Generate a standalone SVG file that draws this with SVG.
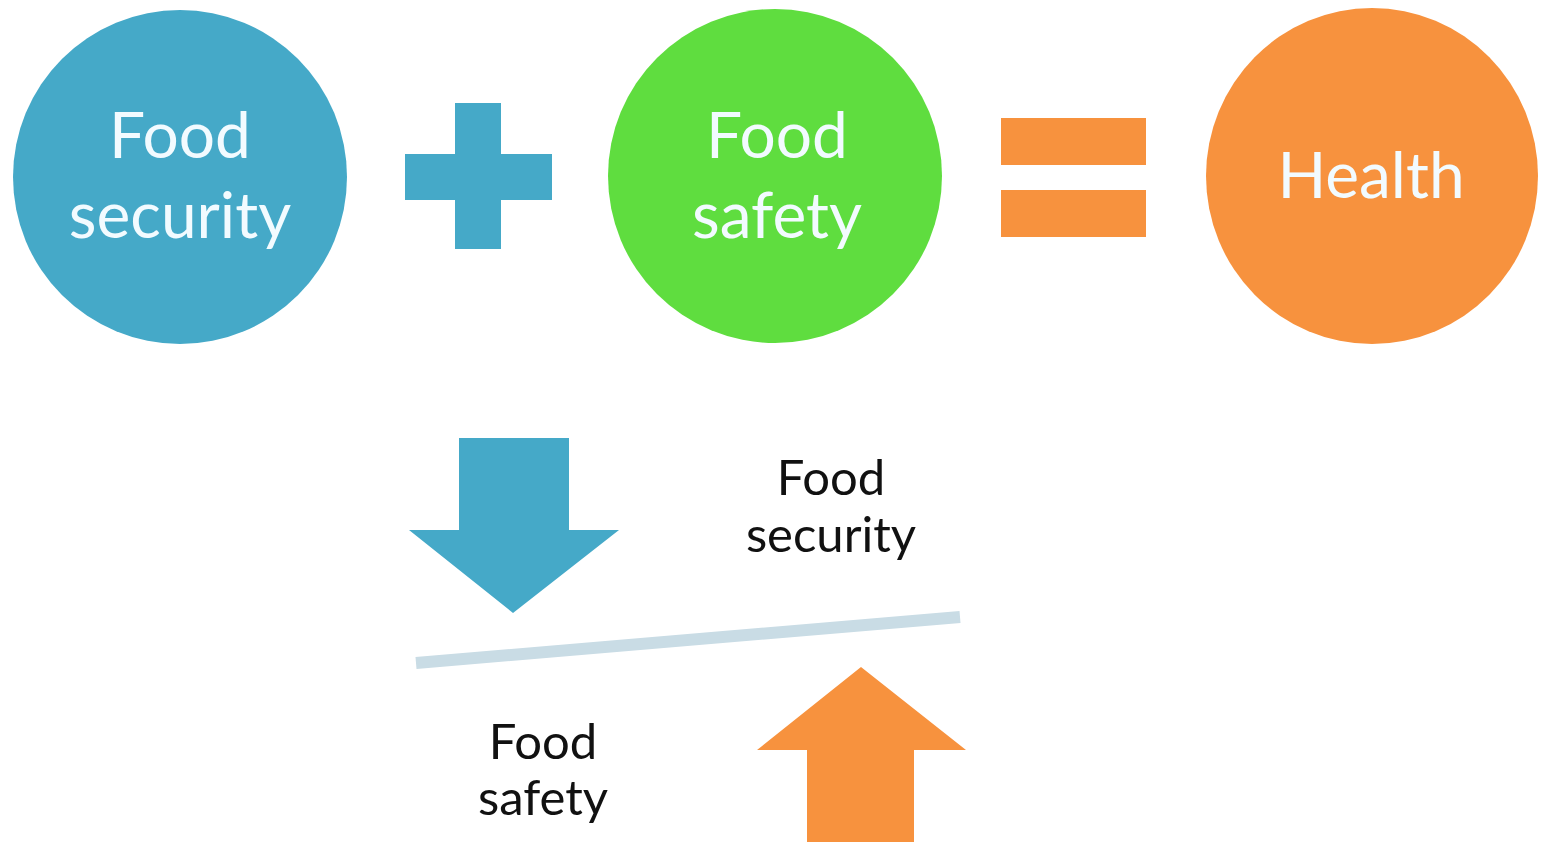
<svg xmlns="http://www.w3.org/2000/svg" width="1543" height="842" viewBox="0 0 1543 842">
  <style>
    .lbl { font-family: Lato, "Open Sans", "Liberation Sans", sans-serif; text-anchor: middle; }
    .in { fill: #F2FBFF; font-size: 64px; }
    .out { fill: #111111; font-size: 49px; }
    .blue { fill: #45A9C8; }
    .green { fill: #5FDD3F; }
    .orange { fill: #F7923E; }
  </style>
  <rect width="1543" height="842" fill="#FFFFFF"/>

  <g id="food-security">
    <ellipse class="blue" cx="180" cy="177" rx="167" ry="167"/>
    <text class="lbl in" x="180" y="158">Food</text>
    <text class="lbl in" x="180" y="238">security</text>
  </g>

  <g id="plus">
    <rect class="blue" x="455" y="103" width="46" height="146"/>
    <rect class="blue" x="405" y="154" width="147" height="46"/>
  </g>

  <g id="food-safety">
    <ellipse class="green" cx="775" cy="176" rx="167" ry="167"/>
    <text class="lbl in" x="777" y="158">Food</text>
    <text class="lbl in" x="777" y="238">safety</text>
  </g>

  <g id="equals">
    <rect class="orange" x="1001" y="118" width="145" height="47"/>
    <rect class="orange" x="1001" y="190" width="145" height="47"/>
  </g>

  <g id="health">
    <ellipse class="orange" cx="1372" cy="176" rx="166" ry="168"/>
    <text class="lbl in" x="1371" y="198">Health</text>
  </g>

  <g id="balance">
    <line x1="416" y1="663" x2="960" y2="617" stroke="#C9DCE5" stroke-width="12"/>
  </g>

  <g id="arrow-down">
    <polygon class="blue" points="459,438 569,438 569,530 619,530 513,613 409,530 459,530"/>
  </g>

  <g id="arrow-up">
    <polygon class="orange" points="861,667 966,750 914,750 914,842 807,842 807,750 757,750"/>
  </g>

  <g id="label-security">
    <text class="lbl out" x="831" y="495">Food</text>
    <text class="lbl out" x="831" y="552">security</text>
  </g>

  <g id="label-safety">
    <text class="lbl out" x="543" y="759">Food</text>
    <text class="lbl out" x="543" y="815">safety</text>
  </g>
</svg>
